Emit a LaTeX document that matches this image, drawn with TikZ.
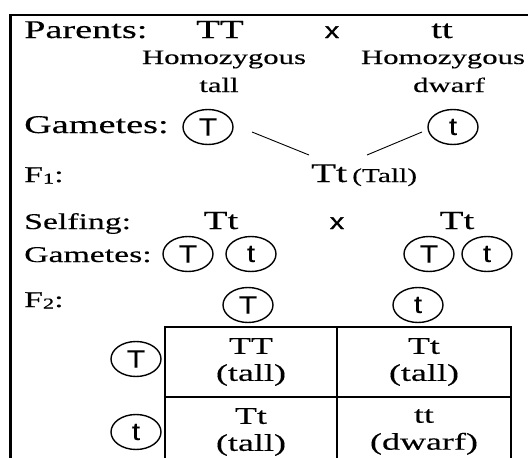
\documentclass[tikz,border=0pt]{standalone}
\usepackage{fontspec}
\setmainfont[FakeStretch=1.5,FakeBold=0.3]{Liberation Serif}
\newfontfamily\gsans[FakeStretch=1.2,FakeBold=0.3]{Liberation Sans}
\newfontfamily\gsansb[FakeStretch=1.3,FakeBold=1.2]{Liberation Sans}
\usetikzlibrary{shapes.geometric}
\begin{document}
\begin{tikzpicture}[x=1pt,y=-1pt,
 lbl/.style={anchor=base west,inner sep=0pt,font=\fontsize{25.5}{30}\selectfont},
 lbltwo/.style={anchor=base west,inner sep=0pt,font=\fontsize{22.5}{26}\selectfont},
 geno/.style={anchor=base,inner sep=0pt,font=\fontsize{26}{30}\selectfont},
 desc/.style={anchor=base,inner sep=0pt,font=\fontsize{20.5}{24}\selectfont},
 gam/.style={draw,ellipse,line width=1.4pt,minimum width=50pt,minimum height=35pt,inner sep=0pt,font=\gsans\fontsize{25}{28}\selectfont},
 crossx/.style={anchor=base,inner sep=0pt,font=\gsansb\fontsize{22}{26}\selectfont},
 cell/.style={anchor=center,align=center,inner sep=0pt,font=\fontsize{24}{27}\selectfont},
 grid/.style={line width=1.8pt},
 link/.style={line width=0.9pt}
]
\fill[white] (0,0) rectangle (528,458);
\useasboundingbox (0,0) rectangle (528,458);
% frame
\draw[line width=2.6pt] (10.5,14.3) -- (10.5,458);
\draw[line width=1.4pt] (9.2,15) -- (528,15);
% parents
\node[lbl] (parents) at (24,38) {Parents:};
\node[geno] (TT) at (220,38) {TT};
\node[crossx] (x1) at (332,38) {x};
\node[geno] (tt) at (442,38) {tt};
\node[desc] (hz1) at (224,64) {Homozygous};
\node[desc] (tall1) at (219,92) {tall};
\node[desc] (hz2) at (443,64) {Homozygous};
\node[desc] (dw) at (449,92) {dwarf};
% gametes 1
\node[lbl] (gam1) at (24,133) {Gametes:};
\node[gam] (g1T) at (208,127) {T};
\node[gam] (g1t) at (453,127) {t};
% F1
\node[lbltwo] (f1lbl) at (24,182) {F\raisebox{-1.5pt}{\fontsize{15}{15}\selectfont 1}:};
\node[anchor=base west,inner sep=0pt] (f1) at (311,182) {{\fontsize{27}{30}\selectfont Tt}\hspace{5pt}{\fontsize{19.6}{24}\selectfont (Tall)}};
\coordinate (l1a) at (252,132);
\coordinate (l1b) at (309,155);
\coordinate (l2a) at (422,132);
\coordinate (l2b) at (367,155);
\draw[link] (l1a) -- (l1b);
\draw[link] (l2a) -- (l2b);
% selfing
\node[lbltwo] (self) at (24,229) {Selfing:};
\node[geno] (s1) at (221,229) {Tt};
\node[crossx] (x2) at (337,229) {x};
\node[geno] (s2) at (457,229) {Tt};
% gametes 2
\node[lbltwo] (gam2) at (24,262) {Gametes:};
\node[gam] (g2a) at (188,254) {T};
\node[gam] (g2b) at (251,254) {t};
\node[gam] (g2c) at (429,254) {T};
\node[gam] (g2d) at (487,254) {t};
% F2
\node[lbltwo] (f2lbl) at (24,307) {F\raisebox{-1.5pt}{\fontsize{15}{15}\selectfont 2}:};
\node[gam] (hT) at (248,305) {T};
\node[gam] (ht) at (418,305) {t};
\node[gam] (vT) at (136,359) {T};
\node[gam] (vt) at (136,432) {t};
% table
\draw[grid] (165,458) -- (165,327) -- (511,327) -- (511,458);
\draw[grid] (165,397) -- (511,397);
\draw[grid] (337,327) -- (337,458);
\node[cell] (c11) at (251,362) {TT\\(tall)};
\node[cell] (c12) at (424,362) {Tt\\(tall)};
\node[cell] (c21) at (251,432) {Tt\\(tall)};
\node[cell] (c22) at (424,432) {tt\\(dwarf)};
\end{tikzpicture}
\end{document}
